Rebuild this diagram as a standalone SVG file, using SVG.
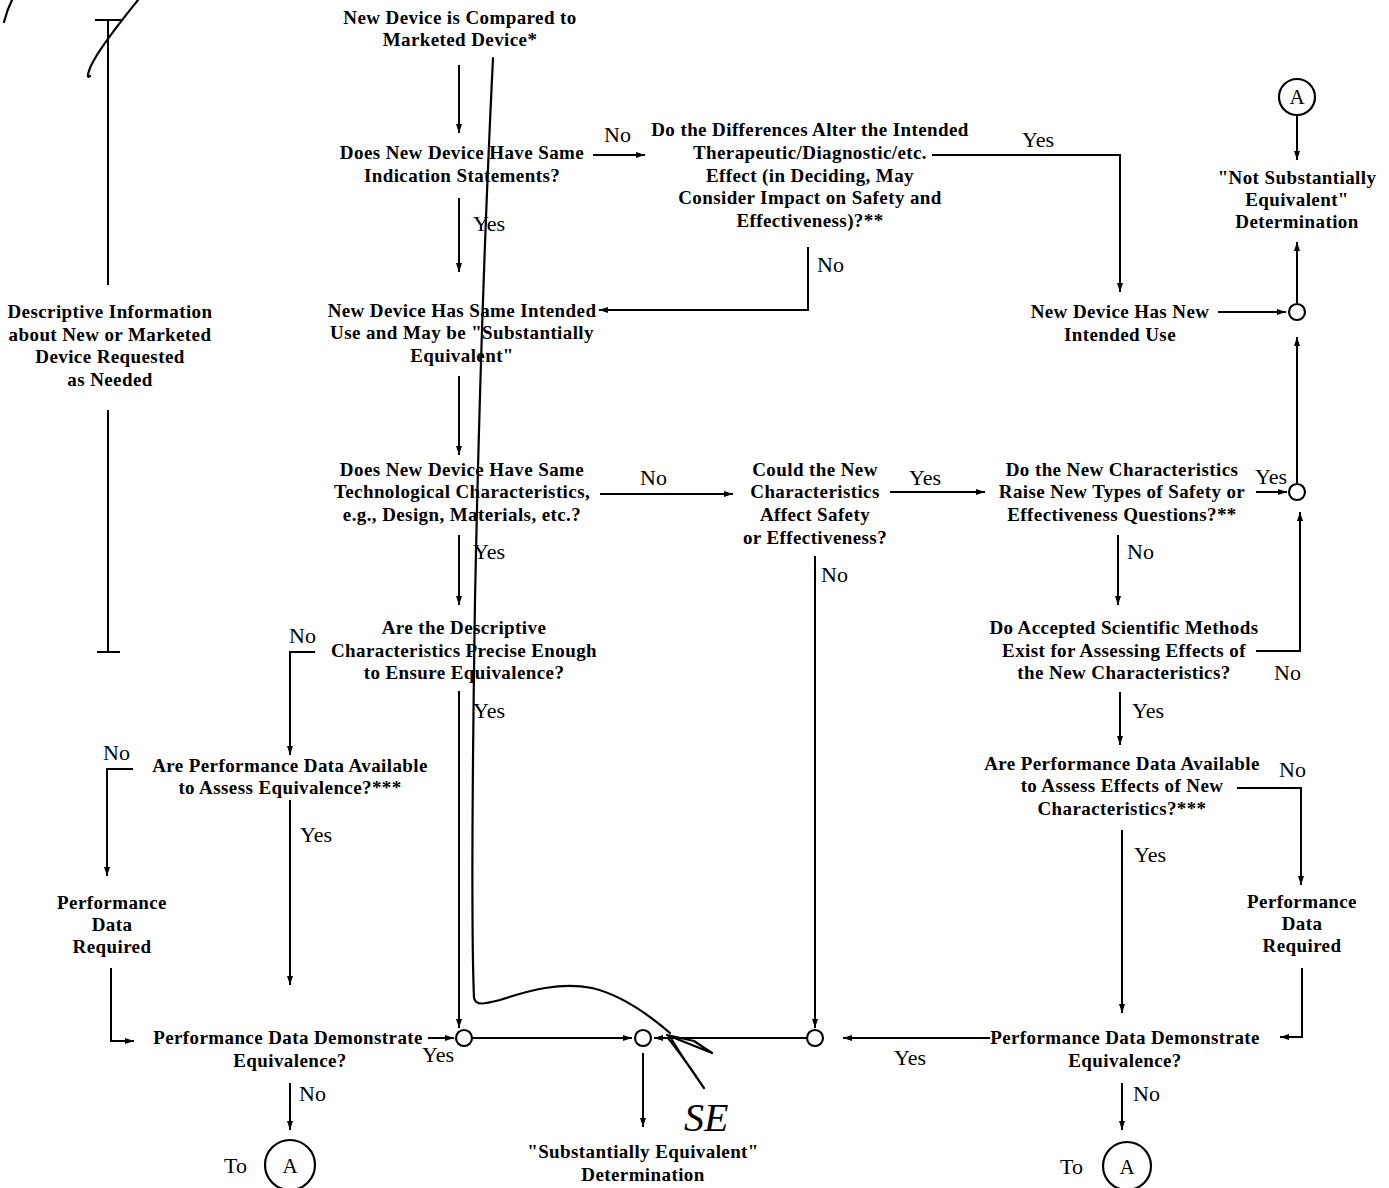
<svg xmlns="http://www.w3.org/2000/svg" width="1389" height="1188" viewBox="0 0 1389 1188">
<defs>
<marker id="ah" markerWidth="10" markerHeight="8" refX="9" refY="4" orient="auto" markerUnits="userSpaceOnUse">
<path d="M0,1 L9,4 L0,7 Z" fill="#000"/>
</marker>
</defs>
<style>
text{font-family:"Liberation Serif","Times New Roman",serif;fill:#000}
.t{font-size:19px;font-weight:bold;letter-spacing:0.4px;text-anchor:middle}
.r{font-size:19px;font-weight:bold;letter-spacing:0.4px;text-anchor:middle}
.lb{font-size:22px;font-weight:normal}
.ca{font-size:21px;text-anchor:middle}
.ln{stroke:#000;stroke-width:2;fill:none}
.ar{stroke:#000;stroke-width:2;fill:none;marker-end:url(#ah)}
.jn{stroke:#000;stroke-width:2.2;fill:#fff}
.hw{stroke:#000;stroke-width:2.2;fill:none;stroke-linecap:round;stroke-linejoin:round}
</style>
<rect width="1389" height="1188" fill="#fff"/>

<g id="connectors">
<path class="ln" d="M95,20 H121 M108,20 V285 M108,410 V652 M97,652 H120"/>
<path class="ar" d="M459,65 V133"/>
<path class="ar" d="M593,155 H645"/>
<path class="ar" d="M459,198 V272"/>
<path class="ar" d="M932,155 H1120 V292"/>
<path class="ar" d="M808,247 V310 H599"/>
<path class="ar" d="M459,376 V455"/>
<path class="ar" d="M1218,312 H1286"/>
<path class="ar" d="M1297,303 V242"/>
<path class="ar" d="M1297,116 V160"/>
<path class="ar" d="M1297,483 V337"/>
<path class="ar" d="M600,494 H733"/>
<path class="ar" d="M890,492 H985"/>
<path class="ar" d="M1256,492 H1287"/>
<path class="ar" d="M459,535 V605"/>
<path class="ar" d="M1118,535 V605"/>
<path class="ar" d="M1256,651 H1300 V512"/>
<path class="ar" d="M315,652 H290 V755"/>
<path class="ar" d="M459,691 V1028"/>
<path class="ar" d="M1120,692 V745"/>
<path class="ar" d="M133,769 H107 V876"/>
<path class="ar" d="M290,800 V985"/>
<path class="ar" d="M111,968 V1041 H134"/>
<path class="ar" d="M428,1038 H454"/>
<path class="ar" d="M290,1083 V1130"/>
<path class="ar" d="M473,1038 H632"/>
<path class="ar" d="M806,1038 H654"/>
<path class="ar" d="M643,1053 V1127"/>
<path class="ar" d="M815,556 V1028"/>
<path class="ar" d="M1237,788 H1301 V885"/>
<path class="ar" d="M1122,830 V1013"/>
<path class="ar" d="M1302,968 V1037 H1280"/>
<path class="ar" d="M990,1038 H843"/>
<path class="ar" d="M1122,1083 V1130"/>
<g class="lb">
<text x="604" y="142">No</text>
<text x="473" y="231">Yes</text>
<text x="1022" y="147">Yes</text>
<text x="817" y="272">No</text>
<text x="640" y="485">No</text>
<text x="909" y="485">Yes</text>
<text x="1255" y="484">Yes</text>
<text x="473" y="559">Yes</text>
<text x="1127" y="559">No</text>
<text x="289" y="643">No</text>
<text x="1274" y="680">No</text>
<text x="473" y="718">Yes</text>
<text x="1132" y="718">Yes</text>
<text x="103" y="760">No</text>
<text x="1279" y="777">No</text>
<text x="300" y="842">Yes</text>
<text x="1134" y="862">Yes</text>
<text x="422" y="1062">Yes</text>
<text x="894" y="1065">Yes</text>
<text x="299" y="1101">No</text>
<text x="1133" y="1101">No</text>
<text x="821" y="582">No</text>
</g>
</g>

<g id="n-compared"><text class="t" x="460" y="24">New Device is Compared to</text><text class="t" x="460" y="46">Marketed Device*</text></g>
<g id="n-indication"><text class="t" x="462" y="159">Does New Device Have Same</text><text class="t" x="462" y="182">Indication Statements?</text></g>
<g id="n-differences"><text class="t" x="810" y="136">Do the Differences Alter the Intended</text><text class="t" x="810" y="159">Therapeutic/Diagnostic/etc.</text><text class="t" x="810" y="182">Effect (in Deciding, May</text><text class="t" x="810" y="204">Consider Impact on Safety and</text><text class="t" x="810" y="227">Effectiveness)?**</text></g>
<g id="n-same-use"><text class="t" x="462" y="317">New Device Has Same Intended</text><text class="t" x="462" y="339">Use and May be "Substantially</text><text class="t" x="462" y="362">Equivalent"</text></g>
<g id="n-new-use"><text class="r" x="1120" y="318">New Device Has New</text><text class="r" x="1120" y="341">Intended Use</text></g>
<g id="n-a-top"><circle class="jn" cx="1297" cy="97" r="18"/><text class="ca" x="1297" y="104">A</text></g>
<g id="n-nse"><text class="t" x="1297" y="184">"Not Substantially</text><text class="t" x="1297" y="206">Equivalent"</text><text class="t" x="1297" y="228">Determination</text></g>
<g id="j1"><circle class="jn" cx="1297" cy="312" r="8"/></g>
<g id="n-descriptive"><text class="r" x="110" y="318">Descriptive Information</text><text class="r" x="110" y="341">about New or Marketed</text><text class="r" x="110" y="363">Device Requested</text><text class="r" x="110" y="386">as Needed</text></g>
<g id="n-tech"><text class="t" x="462" y="476">Does New Device Have Same</text><text class="t" x="462" y="498">Technological Characteristics,</text><text class="t" x="462" y="521">e.g., Design, Materials, etc.?</text></g>
<g id="n-affect"><text class="t" x="815" y="476">Could the New</text><text class="t" x="815" y="498">Characteristics</text><text class="t" x="815" y="521">Affect Safety</text><text class="t" x="815" y="544">or Effectiveness?</text></g>
<g id="n-raise"><text class="t" x="1122" y="476">Do the New Characteristics</text><text class="t" x="1122" y="498">Raise New Types of Safety or</text><text class="t" x="1122" y="521">Effectiveness Questions?**</text></g>
<g id="j2"><circle class="jn" cx="1297" cy="492" r="8"/></g>
<g id="n-precise"><text class="t" x="464" y="634">Are the Descriptive</text><text class="t" x="464" y="657">Characteristics Precise Enough</text><text class="t" x="464" y="679">to Ensure Equivalence?</text></g>
<g id="n-methods"><text class="r" x="1124" y="634">Do Accepted Scientific Methods</text><text class="r" x="1124" y="657">Exist for Assessing Effects of</text><text class="r" x="1124" y="679">the New Characteristics?</text></g>
<g id="n-perf-avail-l"><text class="t" x="290" y="772">Are Performance Data Available</text><text class="t" x="290" y="794">to Assess Equivalence?***</text></g>
<g id="n-perf-avail-r"><text class="t" x="1122" y="770">Are Performance Data Available</text><text class="t" x="1122" y="792">to Assess Effects of New</text><text class="t" x="1122" y="815">Characteristics?***</text></g>
<g id="n-req-l"><text class="t" x="112" y="909">Performance</text><text class="t" x="112" y="931">Data</text><text class="t" x="112" y="953">Required</text></g>
<g id="n-req-r"><text class="t" x="1302" y="908">Performance</text><text class="t" x="1302" y="930">Data</text><text class="t" x="1302" y="952">Required</text></g>
<g id="n-demo-l"><text class="t" x="288" y="1044">Performance Data Demonstrate</text><text class="t" x="290" y="1067">Equivalence?</text></g>
<g id="n-demo-r"><text class="t" x="1125" y="1044">Performance Data Demonstrate</text><text class="t" x="1125" y="1067">Equivalence?</text></g>
<g id="j3"><circle class="jn" cx="464" cy="1038" r="8"/></g>
<g id="j4"><circle class="jn" cx="643" cy="1038" r="8"/></g>
<g id="j5"><circle class="jn" cx="815" cy="1038" r="8"/></g>
<g id="n-se"><text class="t" x="643" y="1158">"Substantially Equivalent"</text><text class="t" x="643" y="1181">Determination</text></g>
<g id="n-to-a-l"><text class="lb" x="224" y="1173">To</text><circle class="jn" cx="290" cy="1165" r="25"/><text class="ca" x="290" y="1173">A</text></g>
<g id="n-to-a-r"><text class="lb" x="1060" y="1174">To</text><circle class="jn" cx="1127" cy="1166" r="24"/><text class="ca" x="1127" y="1174">A</text></g>

<g id="annotations">
<path class="hw" d="M4,22 C6,14 9,6 12,0"/>
<path class="hw" d="M138,0 C122,20 104,42 94,60 C88,70 86,80 90,76"/>
<path class="hw" d="M493,58 C486,200 479,400 475,600 C472,800 472,950 474,998 C476,1006 484,1004 500,1000 C530,990 560,982 592,988 C622,995 648,1014 670,1033"/>
<path class="hw" d="M667,1035 L712,1053 L694,1041 Z M672,1040 C683,1058 694,1074 704,1088 C696,1076 684,1058 668,1038"/>
<text x="684" y="1131" style="font-size:40px;font-style:italic;font-family:'Liberation Serif',serif">SE</text>
</g>
</svg>
